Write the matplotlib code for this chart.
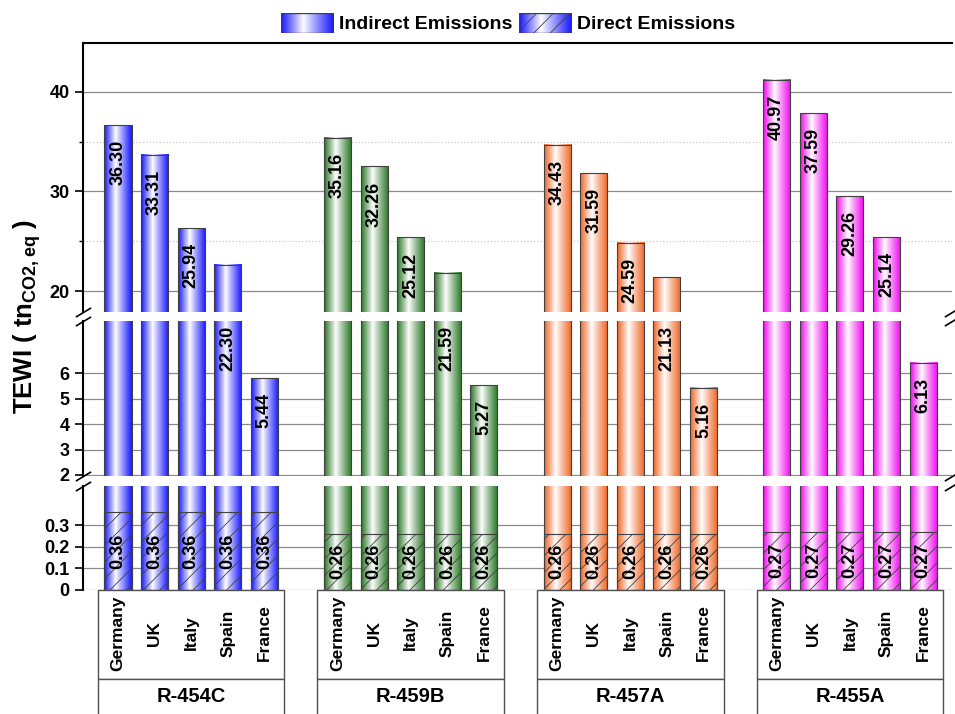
import numpy as np
import matplotlib
matplotlib.use('Agg')
import matplotlib.pyplot as plt
from matplotlib.colors import ListedColormap, to_rgb
from matplotlib.patches import Rectangle, Patch

plt.rcParams['font.family'] = 'Liberation Sans'
plt.rcParams['font.weight'] = 'bold'
plt.rcParams['mathtext.fontset'] = 'custom'
plt.rcParams['mathtext.rm'] = 'Liberation Sans:bold'
plt.rcParams['mathtext.it'] = 'Liberation Sans:bold'
plt.rcParams['mathtext.bf'] = 'Liberation Sans:bold'
plt.rcParams['hatch.linewidth'] = 0.6

# datos
refrigerantes = ['R-454C', 'R-459B', 'R-457A', 'R-455A']
paises = ['Germany', 'UK', 'Italy', 'Spain', 'France']

indirectas_454c = [36.30, 33.31, 25.94, 22.30, 5.44]
indirectas_459b = [35.16, 32.26, 25.12, 21.59, 5.27]
indirectas_457a = [34.43, 31.59, 24.59, 21.13, 5.16]
indirectas_455a = [40.97, 37.59, 29.26, 25.14, 6.13]
indirectas = [indirectas_454c, indirectas_459b, indirectas_457a, indirectas_455a]

directas = [0.36, 0.26, 0.26, 0.27]

colores = ['#2020ff', '#2f7a2c', '#f06a2c', '#f010f0']

W, H = 955, 714
fig = plt.figure(figsize=(W / 100, H / 100), dpi=100)


def ejes(l, t, r, b):
    return fig.add_axes([l / W, 1 - b / H, (r - l) / W, (b - t) / H])


def cmap_cilindro(color):
    base = np.array(to_rgb(color))
    u = np.linspace(0, 1, 256)
    t = np.where(u < 0.42, (0.42 - u) / 0.42, (u - 0.42) / 0.58)
    k = np.clip(t ** 0.95 * 1.05, 0, 1)
    cols = (1 - k)[:, None] * np.array([1, 1, 1]) + k[:, None] * base
    return ListedColormap(cols)


gradiente = np.linspace(0, 1, 256)[None, :]

ax_top = ejes(83, 43, 952, 312)
ax_mid = ejes(83, 321, 952, 476)
ax_bot = ejes(83, 486, 952, 590)
ax_lab = ejes(83, 590, 952, 714)

xlim = (-0.956, 22.79)
ylims = {ax_top: (17.89, 44.92), ax_mid: (1.96, 8.05), ax_bot: (0, 0.48)}

ancho = 0.74
for ax in (ax_top, ax_mid, ax_bot):
    for g, ref in enumerate(refrigerantes):
        xs = g * 6 + np.arange(5)
        tot = [v + directas[g] for v in indirectas[g]]
        ax.bar(xs, tot, width=ancho, facecolor='none',
               edgecolor='#404040', linewidth=0.8, zorder=3)
        cm = cmap_cilindro(colores[g])
        for x, h in zip(xs, tot):
            ax.imshow(gradiente, cmap=cm, aspect='auto', zorder=2.5,
                      extent=[x - ancho / 2, x + ancho / 2, 0, h],
                      interpolation='bilinear')
        ax.bar(xs, [directas[g]] * 5, width=ancho, facecolor='none',
               edgecolor='#404040', hatch='//', linewidth=0.8, zorder=3)
    ax.set_xlim(*xlim)
    ax.set_ylim(*ylims[ax])
    ax.set_xticks([])
    ax.set_axisbelow(True)
    ax.yaxis.grid(True, which='major', color='#8a8a8a', linewidth=0.9)
    for s in ('right', 'bottom', 'top'):
        ax.spines[s].set_visible(False)
    ax.spines['left'].set_linewidth(1.5)
    ax.tick_params(axis='y', direction='out', length=6, width=1.2, labelsize=13)
    ax.tick_params(axis='y', which='minor', direction='out', length=3, width=1)

ax_top.spines['top'].set_visible(True)
ax_top.spines['top'].set_linewidth(1.5)
ax_top.set_yticks([20, 30, 40])
ax_top.set_yticks([25, 35], minor=True)
ax_top.yaxis.grid(True, which='minor', color='#c8c8c8', linestyle=':', linewidth=0.9)
ax_mid.set_yticks([2, 3, 4, 5, 6])
ax_bot.set_yticks([0, 0.1, 0.2, 0.3])
ax_bot.set_yticklabels(['0', '0.1', '0.2', '0.3'])

# etiquetas de valores
for g, ref in enumerate(refrigerantes):
    for j, v in enumerate(indirectas[g]):
        x = g * 6 + j
        tot = v + directas[g]
        txt = '%.2f' % v
        if tot >= 23.8:
            ax_top.annotate(txt, (x, tot), xytext=(0, -15), textcoords='offset pixels',
                            rotation=90, ha='center', va='top', fontsize=13, zorder=5)
        elif tot > 8:
            ax_mid.annotate(txt, (x, ax_mid.get_ylim()[1]), xytext=(0, -5),
                            textcoords='offset pixels', rotation=90, ha='center',
                            va='top', fontsize=13, zorder=5)
        else:
            ax_mid.annotate(txt, (x, tot), xytext=(0, -15), textcoords='offset pixels',
                            rotation=90, ha='center', va='top', fontsize=13, zorder=5)
        ax_bot.text(x, directas[g] / 2, '%.2f' % directas[g], rotation=90,
                    ha='center', va='center', fontsize=13, zorder=5)

# marcas de corte
kw = dict(marker=[(-1, -0.6), (1, 0.6)], markersize=11, linestyle='none',
          color='k', mec='k', mew=1.2, clip_on=False)
ax_top.plot([0, 1], [0, 0], transform=ax_top.transAxes, **kw)
ax_mid.plot([0, 1], [1, 1], transform=ax_mid.transAxes, **kw)
ax_mid.plot([0, 1], [0, 0], transform=ax_mid.transAxes, **kw)
ax_bot.plot([0, 1], [1, 1], transform=ax_bot.transAxes, **kw)

# cajas de categorias
ax_lab.set_xlim(*xlim)
ax_lab.set_ylim(124, 0)
ax_lab.axis('off')
for g, ref in enumerate(refrigerantes):
    x0 = g * 6 - 0.55
    ax_lab.add_patch(Rectangle((x0, 0), 5.1, 89, facecolor='white',
                               edgecolor='#505050', linewidth=1, clip_on=False))
    ax_lab.add_patch(Rectangle((x0, 89), 5.1, 60, facecolor='white',
                               edgecolor='#505050', linewidth=1))
    for j, p in enumerate(paises):
        ax_lab.text(g * 6 + j, 43, p, rotation=90, ha='center', va='center', fontsize=12.5)
    ax_lab.text(g * 6 + 2, 107, ref, ha='center', va='center', fontsize=14.5)

fig.text(27 / W, 1 - 316 / H, r'TEWI ( tn$_{\mathrm{CO2,eq}}$ )', rotation=90,
         ha='center', va='center', fontsize=18.5)

# leyenda
manejadores = [Patch(facecolor='none', edgecolor='none'),
               Patch(facecolor='none', edgecolor='none')]
leg = fig.legend(manejadores, ['Indirect Emissions', 'Direct Emissions'], loc='center',
                 bbox_to_anchor=(508 / W, 1 - 23 / H), ncol=2, frameon=False, fontsize=14,
                 handlelength=2.7, handleheight=1.25, handletextpad=0.3,
                 columnspacing=0.35)
fig.canvas.draw()
for k, p in enumerate(leg.get_patches()):
    bb = p.get_window_extent()
    axl = fig.add_axes([bb.x0 / W, bb.y0 / H, bb.width / W, bb.height / H])
    axl.imshow(gradiente, cmap=cmap_cilindro(colores[0]), aspect='auto',
               extent=[0, 1, 0, 1], interpolation='bilinear')
    axl.add_patch(Rectangle((0, 0), 1, 1, facecolor='none', edgecolor='#404040',
                            linewidth=1, hatch='//' if k == 1 else None))
    axl.set_xlim(0, 1)
    axl.set_ylim(0, 1)
    axl.axis('off')

fig.savefig('out.png', dpi=100)
